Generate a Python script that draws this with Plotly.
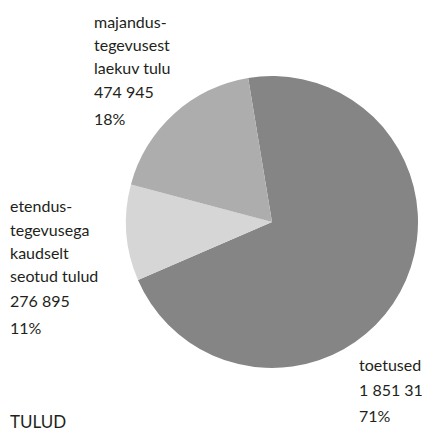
import plotly.graph_objects as go

categories = ["toetused", "etendus-<br>tegevusega<br>kaudselt<br>seotud tulud", "majandus-<br>tegevusest<br>laekuv tulu"]
values = [1851311, 276895, 474945]
value_labels = ["1 851 311", "276 895", "474 945"]
pct_labels = ["71%", "11%", "18%"]
colors = ["#858585", "#d6d6d6", "#adadad"]
title_text = "TULUD"

FONT = "Lato, Roboto, sans-serif"
TXT = "#231f20"
SIZE = 16

# page has an 8px body margin; work in page pixels and convert
OFF = 8
W, H = 432 - OFF, 434 - OFF
cx, cy, r = 272 - OFF, 222 - OFF, 146


def px(x):
    return (x - OFF) / W


def py(y):
    return 1 - (y - OFF) / H


fig = go.Figure(go.Pie(
    labels=["toetused", "etendus", "majandus"],
    values=values,
    sort=False,
    direction="clockwise",
    rotation=-9.4,
    marker=dict(colors=colors, line=dict(width=0)),
    textinfo="none",
    hoverinfo="skip",
    domain=dict(x=[(cx - r) / W, (cx + r) / W], y=[(H - cy - r) / H, (H - cy + r) / H]),
    showlegend=False,
))

# label left x and line baselines (page pixels)
label_x = [357, 8, 92]
label_baselines = [
    [370, 395, 421],
    [211, 235, 258, 281, 306, 333],
    [27, 50, 73, 97, 124],
]
for cat, v, p, lx, bls in zip(categories, value_labels, pct_labels, label_x, label_baselines):
    lines = cat.split("<br>") + [v, p]
    for line, bl in zip(lines, bls):
        fig.add_annotation(
            x=px(lx), y=py(bl - 0.36 * SIZE), xref="paper", yref="paper",
            xanchor="left", yanchor="middle", align="left", showarrow=False,
            text=line, font=dict(family=FONT, size=SIZE, color=TXT),
        )

fig.add_annotation(
    x=px(8), y=py(434), xref="paper", yref="paper",
    xanchor="left", yanchor="bottom", showarrow=False,
    text=title_text,
    font=dict(family=FONT, size=17, color=TXT),
)

fig.update_layout(
    width=W, height=H,
    margin=dict(l=0, r=0, t=0, b=0),
    paper_bgcolor="white", plot_bgcolor="white",
)

fig.write_html("out.html")
